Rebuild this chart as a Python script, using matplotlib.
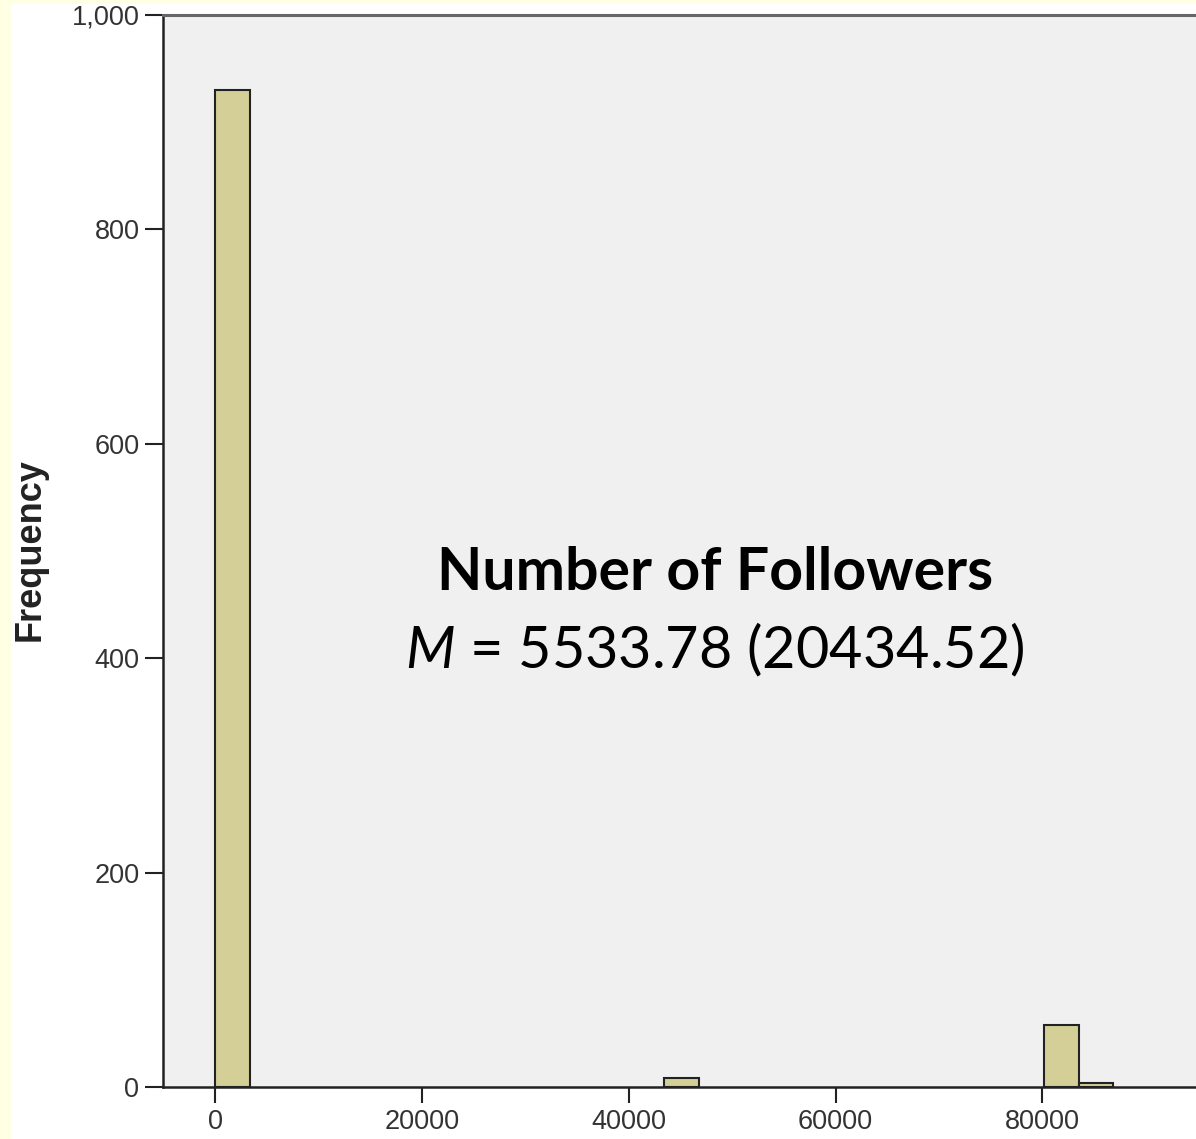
import matplotlib
matplotlib.use("Agg")
import matplotlib.pyplot as plt
from matplotlib.patches import Rectangle
from matplotlib.ticker import FuncFormatter

# Data
bin_width = 3340
bin_starts = [0, 13 * 3340, 24 * 3340, 25 * 3340]
counts = [930, 8, 58, 4]
x_ticks = [0, 20000, 40000, 60000, 80000]
y_ticks = [0, 200, 400, 600, 800, 1000]
title_line = "Number of Followers"
stat_line = r"$\mathit{M}$ = 5533.78 (20434.52)"

plt.rcParams['mathtext.fontset'] = 'custom'
plt.rcParams['mathtext.it'] = 'Lato:italic'
plt.rcParams['mathtext.rm'] = 'Lato'

W, H = 1196, 1139
fig = plt.figure(figsize=(W / 100, H / 100), dpi=100)
fig.patch.set_facecolor('#FFFFE3')
bg = Rectangle((11 / W, 0), 1, 1 - 4 / H, transform=fig.transFigure,
               facecolor='white', edgecolor='none', zorder=-10)
fig.add_artist(bg)

ax = fig.add_axes([163 / W, 1 - 1087 / H, 1 - 163 / W + 0.01, (1087 - 15) / H])
ax.set_zorder(1)
ax.set_facecolor('#F0F0F0')
ax.bar(bin_starts, counts, width=bin_width, align='edge', color='#D3CF97',
       edgecolor='#222222', linewidth=1.5, zorder=3)

ax.set_xlim(-5030, 96000)
ax.set_ylim(0, 1000)
ax.set_xticks(x_ticks)
ax.set_yticks(y_ticks)
ax.yaxis.set_major_formatter(FuncFormatter(lambda v, p: f"{int(v):,}"))

for s in ['left', 'bottom']:
    ax.spines[s].set_color('#222222')
    ax.spines[s].set_linewidth(1.8)
ax.spines['top'].set_color('#666666')
ax.spines['top'].set_linewidth(2.2)
ax.spines['right'].set_visible(False)

ax.tick_params(axis='y', length=13, width=1.5, color='#222222', labelsize=19.5,
               labelcolor='#333333', pad=4, labelfontfamily='Liberation Sans')
ax.tick_params(axis='x', length=11.5, width=1.5, color='#222222', labelsize=19.5,
               labelcolor='#333333', pad=4, labelfontfamily='Liberation Sans')

fig.text(30 / W, 1 - 550 / H, 'Frequency', rotation=90, ha='center', va='center',
         fontsize=26, fontweight='bold', family='Liberation Sans', color='#222222',
         zorder=5)

fig.text(715 / W, 1 - 573 / H, title_line, ha='center', va='center',
         fontsize=42.5, fontweight='bold', family='Lato', color='black', zorder=5)
fig.text(715 / W, 1 - 650 / H, stat_line, ha='center', va='center',
         fontsize=41.5, family='Lato', color='black', zorder=5)

fig.savefig('out.png', dpi=100, facecolor=fig.get_facecolor())
